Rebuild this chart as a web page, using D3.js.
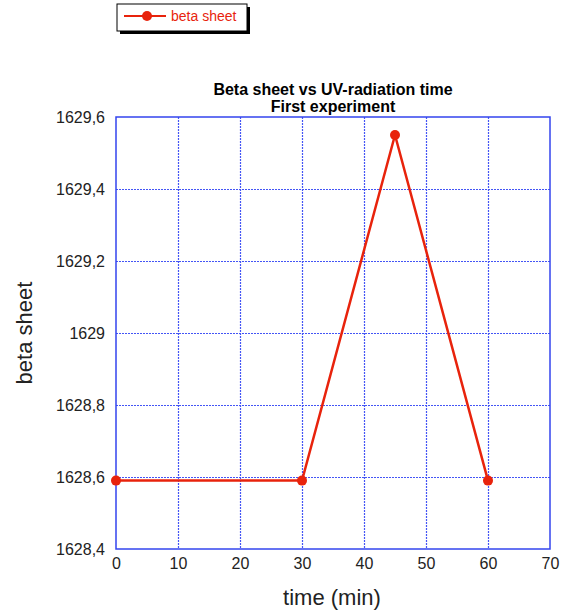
<!DOCTYPE html>
<meta charset="utf-8">
<head>
  <script src="https://d3js.org/d3.v7.min.js"></script>
  <style>
    body { margin: 0; background: #fff; }
    text { font-family: "Liberation Sans", Arial, sans-serif; }
  </style>
</head>
<body>
<div id="chart"></div>
<script>
  "use strict"

  // dados
  var tempos = [0, 30, 45, 60];
  var betaSheet = [1628.59, 1628.59, 1629.55, 1628.59];
  var ticksX = [0, 10, 20, 30, 40, 50, 60, 70];
  var ticksY = [1628.4, 1628.6, 1628.8, 1629, 1629.2, 1629.4, 1629.6];

  var larguraSVG = 561, alturaSVG = 613;
  var margin = {top: 117, right: 11, bottom: 64, left: 116},
      larguraVis = larguraSVG - margin.left - margin.right,
      alturaVis = alturaSVG - margin.top - margin.bottom;

  var vermelho = "#e8230c", azul = "#3344ee";

  var svg = d3.select('#chart')
              .append('svg')
                .attr('width', larguraSVG)
                .attr('height', alturaSVG);

  var grafico = svg.append('g')
                   .attr('transform', 'translate(' + margin.left + ',' + margin.top + ')');

  var x = d3.scaleLinear().domain([0, 70]).range([0, larguraVis]);
  var y = d3.scaleLinear().domain([1628.4, 1629.6]).range([alturaVis, 0]);

  var formata = function(d) { return String(+d.toFixed(1)).replace('.', ','); };

  // grade pontilhada
  grafico.selectAll('line.gx')
         .data(ticksX.slice(1, -1))
         .enter().append('line')
         .attr('x1', d => Math.round(x(d)) + 0.5).attr('x2', d => Math.round(x(d)) + 0.5)
         .attr('y1', 0).attr('y2', alturaVis)
         .attr('stroke', '#4455f5').attr('stroke-width', 1.2)
         .attr('stroke-dasharray', '2,1');

  grafico.selectAll('line.gy')
         .data(ticksY.slice(1, -1))
         .enter().append('line')
         .attr('y1', d => Math.round(y(d)) + 0.5).attr('y2', d => Math.round(y(d)) + 0.5)
         .attr('x1', 0).attr('x2', larguraVis)
         .attr('stroke', '#4455f5').attr('stroke-width', 1.2)
         .attr('stroke-dasharray', '2,1');

  // eixos
  var eixoX = grafico.append('g')
         .attr('transform', 'translate(0,' + alturaVis + ')')
         .call(d3.axisBottom(x).tickValues(ticksX).tickSize(0).tickPadding(9).tickFormat(d3.format('d')));
  var eixoY = grafico.append('g')
         .call(d3.axisLeft(y).tickValues(ticksY).tickSize(0).tickPadding(11).tickFormat(formata));

  [eixoX, eixoY].forEach(function(e) {
    e.select('.domain').remove();
    e.selectAll('text').attr('font-size', 16).attr('fill', '#222')
     .style('font-family', '"Liberation Sans", Arial, sans-serif');
  });

  grafico.append('rect')
         .attr('width', larguraVis).attr('height', alturaVis)
         .attr('fill', 'none').attr('stroke', azul).attr('stroke-width', 1.5);

  // linha e pontos
  var dados = tempos.map((t, i) => ({t: t, v: betaSheet[i]}));

  grafico.append('path')
         .datum(dados)
         .attr('fill', 'none')
         .attr('stroke', vermelho)
         .attr('stroke-width', 2.5)
         .attr('d', d3.line().x(d => x(d.t)).y(d => y(d.v)));

  grafico.selectAll('circle')
         .data(dados)
         .enter().append('circle')
         .attr('cx', d => x(d.t)).attr('cy', d => y(d.v))
         .attr('r', 5).attr('fill', vermelho);

  // titulos
  svg.append('text').attr('x', 333).attr('y', 95)
     .attr('text-anchor', 'middle').attr('font-size', 16).attr('font-weight', 'bold')
     .text('Beta sheet vs UV-radiation time');
  svg.append('text').attr('x', 333).attr('y', 112)
     .attr('text-anchor', 'middle').attr('font-size', 16).attr('font-weight', 'bold')
     .text('First experiment');

  svg.append('text').attr('x', 332).attr('y', 605)
     .attr('text-anchor', 'middle').attr('font-size', 22).attr('fill', '#222')
     .text('time (min)');
  svg.append('text')
     .attr('transform', 'translate(32,' + (margin.top + alturaVis / 2) + ') rotate(-90)')
     .attr('text-anchor', 'middle').attr('font-size', 22).attr('fill', '#222')
     .text('beta sheet');

  // legenda
  var legenda = svg.append('g');
  legenda.append('rect').attr('x', 120).attr('y', 7).attr('width', 130).attr('height', 27).attr('fill', '#000');
  legenda.append('rect').attr('x', 117).attr('y', 4).attr('width', 130).attr('height', 27)
         .attr('fill', '#fff').attr('stroke', '#000').attr('stroke-width', 1);
  legenda.append('line').attr('x1', 124).attr('x2', 166).attr('y1', 16).attr('y2', 16)
         .attr('stroke', vermelho).attr('stroke-width', 2);
  legenda.append('circle').attr('cx', 147).attr('cy', 16).attr('r', 5).attr('fill', vermelho);
  legenda.append('text').attr('x', 171).attr('y', 21).attr('font-size', 14).attr('fill', vermelho)
         .text('beta sheet');
</script>
</body>
</html>
